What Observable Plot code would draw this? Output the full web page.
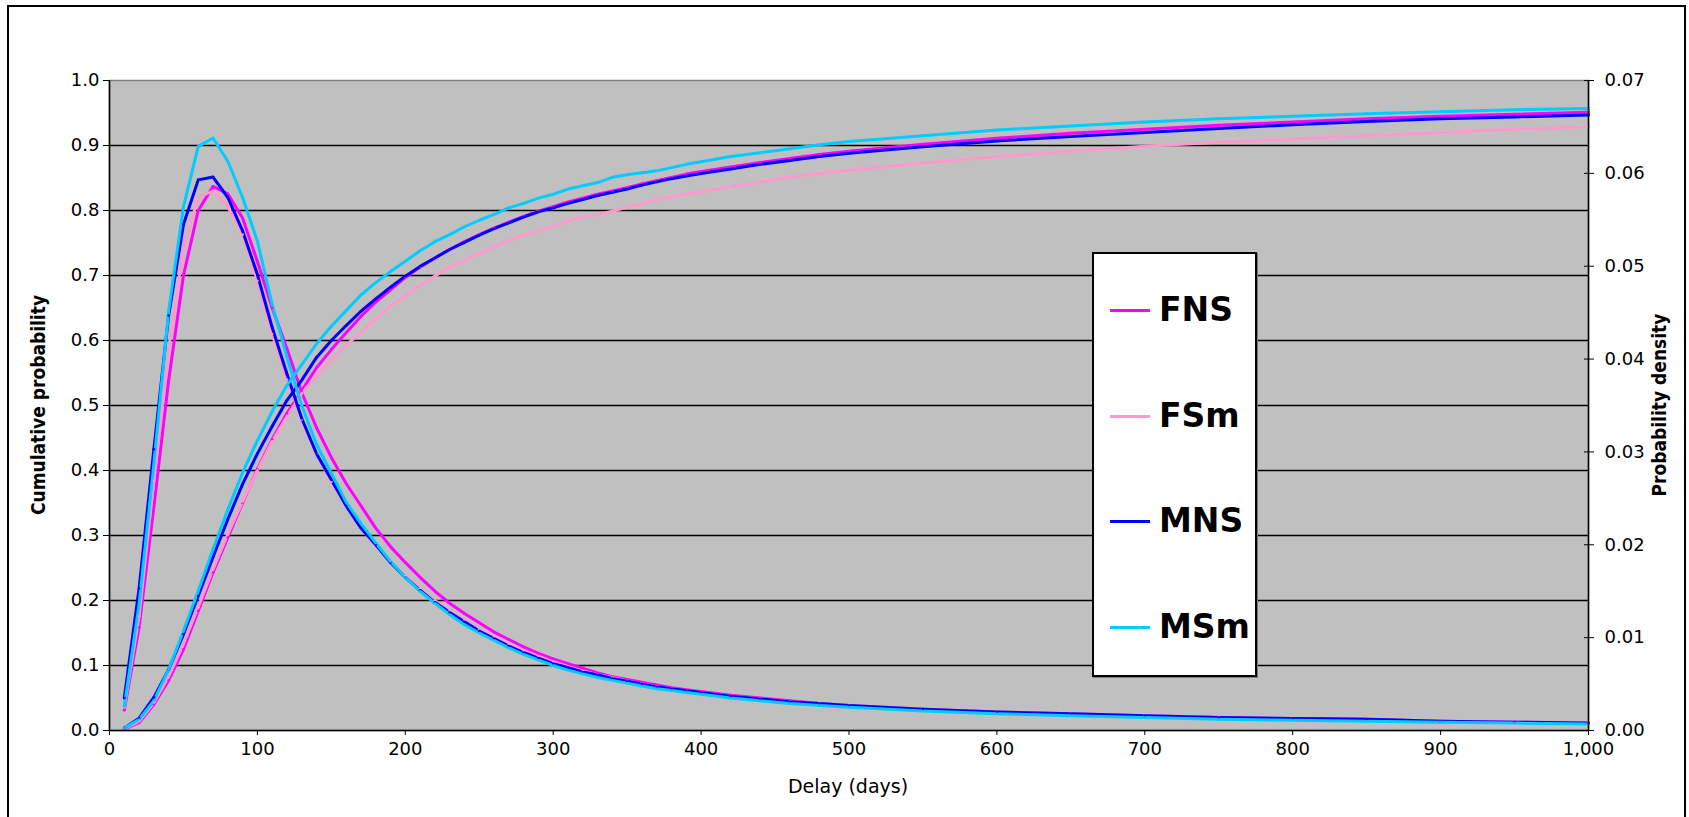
<!DOCTYPE html>
<html>
<head>
<meta charset="utf-8">
<script src="https://cdn.jsdelivr.net/npm/d3@7"></script>
<script src="https://cdn.jsdelivr.net/npm/@observablehq/plot@0.6"></script>
<style>
  html, body { margin: 0; padding: 0; background: #fff; }
  #wrap { position: relative; width: 1689px; height: 817px; overflow: hidden; font-family: "DejaVu Sans", Verdana, sans-serif; }
  #outer { position: absolute; left: 7px; top: 5px; width: 1679px; height: 900px; border: 2px solid #000; box-sizing: border-box; pointer-events: none; }
  #chart { position: absolute; left: 0; top: 0; }
  .ytitle { position: absolute; font-family: "DejaVu Sans Condensed", "DejaVu Sans", sans-serif; font-weight: bold; font-size: 19px; white-space: nowrap; transform: translate(-50%, -50%) rotate(-90deg); }
  .xtitle { position: absolute; font-size: 19px; white-space: nowrap; transform: translate(-50%, -50%); }
  #legend { position: absolute; left: 1092px; top: 252px; width: 165px; height: 425px; background: #fff; border: 2px solid #000; box-sizing: border-box; box-shadow: 1px 1px 0 #7a7a7a; }
  .item { position: absolute; left: 16px; height: 40px; display: flex; align-items: center; }
  .swatch { width: 40px; height: 3px; margin-right: 9px; }
  .lab { font-family: "DejaVu Sans", Verdana, sans-serif; font-weight: bold; font-size: 33px; line-height: 40px; }
</style>
</head>
<body>
<div id="wrap">
  <div id="chart"></div>
  <div id="outer"></div>
</div>
<script>
// ---- data ----
const seriesNames = ["FNS", "FSm", "MNS", "MSm"];
const seriesColors = ["#FF00FF", "#FF99CC", "#0000FF", "#00CCFF"];

const days = [10,20,30,40,50,60,70,80,90,100,110,120,130,140,150,160,170,180,190,200,
  210,220,230,240,250,260,270,280,290,300,310,320,330,340,350,360,370,380,390,400,
  420,440,460,480,500,550,600,650,700,750,800,850,900,950,1000];

// cumulative probability (left axis)
const cumFNS = [.002,.012,.040,.077,.125,.184,.243,.297,.350,.402,.448,.488,.523,.558,.586,.612,.637,.659,.678,.697,
  .713,.727,.740,.752,.763,.773,.782,.791,.799,.806,.813,.819,.825,.830,.835,.841,.846,.851,.856,.860,
  .867,.874,.880,.886,.891,.902,.911,.919,.925,.931,.936,.941,.945,.948,.951];
const cumFSm = [.003,.014,.043,.083,.133,.190,.248,.302,.352,.400,.445,.483,.519,.546,.570,.593,.613,.634,.653,.669,
  .685,.699,.713,.723,.734,.744,.754,.762,.769,.776,.784,.790,.794,.799,.805,.810,.817,.821,.825,.829,
  .837,.844,.851,.857,.862,.873,.883,.891,.899,.905,.910,.915,.920,.925,.929];
const cumMNS = [.004,.019,.051,.094,.148,.207,.267,.325,.379,.426,.468,.508,.539,.574,.600,.623,.645,.664,.682,.699,
  .714,.727,.740,.751,.762,.772,.781,.790,.798,.804,.811,.817,.823,.828,.833,.839,.844,.849,.853,.857,
  .864,.871,.877,.883,.888,.898,.907,.914,.920,.926,.932,.937,.941,.944,.947];
const cumMSm = [.004,.017,.046,.094,.153,.215,.279,.340,.397,.446,.491,.531,.563,.595,.622,.646,.670,.689,.706,.722,
  .738,.752,.763,.775,.785,.794,.804,.811,.819,.825,.833,.838,.843,.851,.855,.858,.861,.866,.871,.875,
  .883,.889,.895,.901,.906,.915,.924,.930,.936,.941,.945,.949,.952,.955,.957];

// probability density (right axis)
const denFNS = [.0022,.0111,.0241,.0377,.0490,.0560,.0586,.0578,.0552,.0505,.0455,.0411,.0364,.0326,.0294,.0266,.0242,.0218,.0198,.0181,
  .0165,.0150,.0137,.0126,.0116,.0106,.0098,.0090,.0083,.0077,.0072,.0067,.0062,.0058,.0055,.0052,.0049,.0046,.0044,.0042,
  .0038,.0035,.0032,.0029,.0027,.0023,.0020,.0018,.0016,.0014,.0013,.0012,.0010,.0009,.0008];
const denFSm = [.0025,.0123,.0269,.0411,.0520,.0574,.0581,.0564,.0534,.0484,.0427,.0378,.0335,.0298,.0268,.0242,.0218,.0200,.0182,.0167,
  .0153,.0140,.0129,.0119,.0109,.0101,.0093,.0086,.0080,.0074,.0069,.0064,.0060,.0057,.0053,.0050,.0047,.0045,.0043,.0041,
  .0037,.0034,.0031,.0029,.0027,.0023,.0020,.0018,.0016,.0014,.0012,.0011,.0010,.0009,.0009];
const denMNS = [.0035,.0153,.0303,.0447,.0545,.0593,.0596,.0574,.0538,.0491,.0434,.0384,.0336,.0298,.0270,.0242,.0218,.0200,.0181,.0165,
  .0151,.0138,.0127,.0117,.0107,.0099,.0091,.0084,.0078,.0072,.0068,.0063,.0060,.0056,.0053,.0050,.0047,.0045,.0043,.0041,
  .0037,.0034,.0031,.0029,.0027,.0023,.0020,.0018,.0016,.0014,.0013,.0012,.0010,.0009,.0008];
const denMSm = [.0026,.0136,.0287,.0452,.0564,.0629,.0638,.0613,.0574,.0527,.0459,.0402,.0350,.0308,.0277,.0246,.0223,.0202,.0182,.0165,
  .0150,.0137,.0125,.0114,.0105,.0097,.0089,.0082,.0076,.0070,.0065,.0061,.0057,.0054,.0051,.0048,.0045,.0043,.0041,.0039,
  .0035,.0032,.0029,.0027,.0025,.0021,.0018,.0016,.0014,.0012,.0011,.0010,.0009,.0008,.0007];

const xTicks = [0,100,200,300,400,500,600,700,800,900,1000];
const cumTicks = [0,0.1,0.2,0.3,0.4,0.5,0.6,0.7,0.8,0.9,1.0];
const gridTicks = [0.1,0.2,0.3,0.4,0.5,0.6,0.7,0.8,0.9];
const densityTicks = [0,0.01,0.02,0.03,0.04,0.05,0.06,0.07];
const densityMax = 0.07;

// ---- build table ----
const cumData = {FNS: cumFNS, FSm: cumFSm, MNS: cumMNS, MSm: cumMSm};
const denData = {FNS: denFNS, FSm: denFSm, MNS: denMNS, MSm: denMSm};
const rows = [];
for (const s of seriesNames) {
  days.forEach((d, i) => rows.push({series: s, key: s + "-cum", day: d, v: cumData[s][i]}));
  days.forEach((d, i) => rows.push({series: s, key: s + "-den", day: d, v: denData[s][i] / densityMax}));
}

const chart = Plot.plot({
  width: 1689,
  height: 817,
  marginLeft: 109,
  marginRight: 101,
  marginTop: 80,
  marginBottom: 87,
  style: {fontFamily: "'DejaVu Sans', Verdana, sans-serif", fontSize: "18px", color: "#000", background: "transparent", overflow: "visible"},
  x: {domain: [0, 1000]},
  y: {domain: [0, 1]},
  color: {domain: seriesNames, range: seriesColors},
  marks: [
    Plot.frame({fill: "#C0C0C0", stroke: "#808080", strokeWidth: 1.5}),
    Plot.gridY(gridTicks, {stroke: "#000", strokeOpacity: 1, strokeWidth: 1.3}),
    Plot.line(rows, {x: "day", y: "v", z: "key", stroke: "series", strokeWidth: 3, strokeLinejoin: "round"}),
    Plot.dot(rows, {x: "day", y: "v", fill: "series", r: 1.3}),
    Plot.ruleY([0], {stroke: "#000", strokeWidth: 1.5}),
    Plot.ruleX([0, 1000], {stroke: "#000", strokeWidth: 1.5}),
    Plot.axisY({ticks: cumTicks, tickFormat: d => d.toFixed(1), tickSize: 6, tickPadding: 4, label: null}),
    Plot.axisY({anchor: "right", ticks: densityTicks.map(t => t / densityMax),
      tickFormat: d => (d * densityMax).toFixed(2), tickSize: 5, tickPadding: 11, label: null}),
    Plot.axisY({anchor: "right", ticks: densityTicks.map(t => t / densityMax), text: null, tickSize: 5, dx: -5, label: null}),
    Plot.axisX({ticks: xTicks, tickFormat: d3.format(","), tickSize: 5, tickPadding: 7, label: null})
  ]
});
document.getElementById("chart").appendChild(chart);

// ---- titles ----
const wrap = document.getElementById("wrap");
function addText(cls, txt, x, y) {
  const el = document.createElement("div");
  el.className = cls; el.textContent = txt;
  el.style.left = x + "px"; el.style.top = y + "px";
  wrap.appendChild(el);
}
addText("ytitle", "Cumulative probability", 38, 405);
addText("ytitle", "Probability density", 1659, 405);
addText("xtitle", "Delay (days)", 848, 786);

// ---- legend ----
const legend = document.createElement("div");
legend.id = "legend";
const legendTops = [36, 142, 247, 353];
seriesNames.forEach((s, i) => {
  const it = document.createElement("div");
  it.className = "item";
  it.style.top = legendTops[i] + "px";
  const sw = document.createElement("div");
  sw.className = "swatch"; sw.style.background = seriesColors[i];
  const lb = document.createElement("span");
  lb.className = "lab"; lb.textContent = s;
  it.appendChild(sw); it.appendChild(lb);
  legend.appendChild(it);
});
wrap.appendChild(legend);
</script>
</body>
</html>
